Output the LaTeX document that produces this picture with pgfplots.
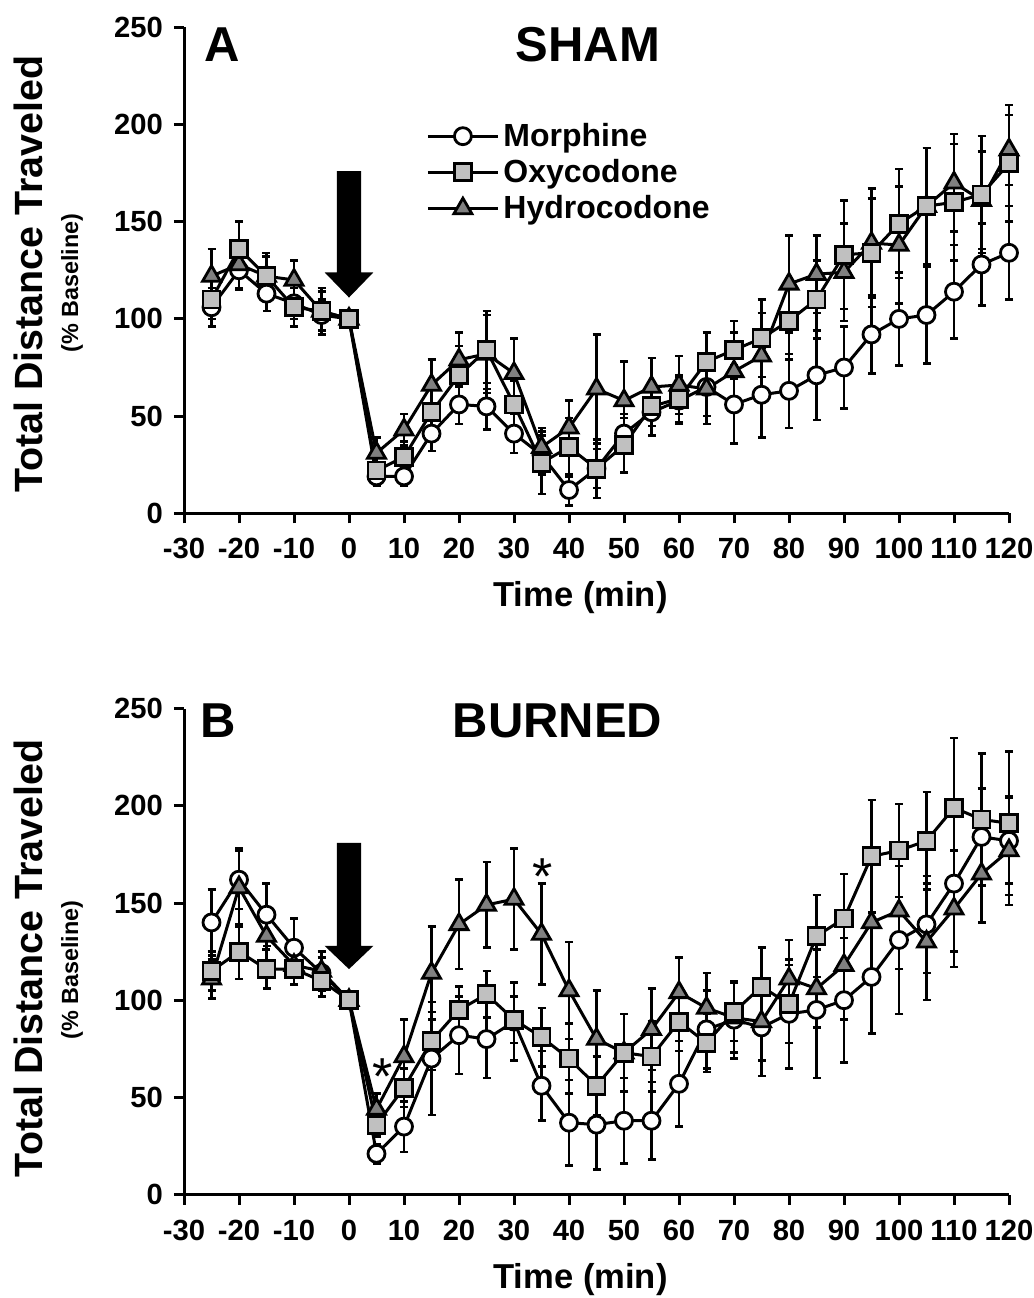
\documentclass[border=0pt]{standalone}
\usepackage{pgfplots}
\pgfplotsset{compat=1.18}
\usepackage{pgfplotstable}
\usepackage{fontspec}
\setmainfont{Liberation Sans}
\definecolor{sqgray}{RGB}{192,192,192}
\definecolor{trigray}{RGB}{128,128,128}

\pgfplotstableread{
t m me o oe h he
-25 106 10 110 10 122 14
-20 125 10 136 14 128 12
-15 113 9 122 10 122 12
-10 108 8 106 10 120 10
-5 102 8 104 10 104 12
0 100 0 100 0 100 0
5 19 5 22 8 31 8
10 19 5 29 8 43 8
15 41 9 52 12 66 13
20 56 10 71 15 79 14
25 55 12 84 20 82 20
30 41 10 56 12 72 18
35 30 10 26 16 34 10
40 12 8 34 15 44 14
45 23 10 23 15 64 28
50 41 10 35 14 58 20
55 52 12 55 10 65 15
60 58 12 59 12 66 15
65 65 15 78 15 64 18
70 56 20 84 15 73 20
75 61 22 90 20 81 22
80 63 19 99 20 118 25
85 71 23 110 20 123 20
90 75 21 133 28 124 25
95 92 20 134 28 139 28
100 100 24 149 28 138 30
105 102 25 158 30 158 30
110 114 24 160 30 170 25
115 128 21 164 30 161 25
120 134 24 180 30 187 18
}\dataA

\pgfplotstableread{
t m me o oe h he
-25 140 17 115 10 111 10
-20 162 15 125 14 158 20
-15 144 16 116 10 133 15
-10 127 15 116 8 118 10
-5 114 8 110 8 115 10
0 100 0 100 0 100 0
5 21 5 36 6 44 8
10 35 13 55 10 71 19
15 70 29 79 15 114 24
20 82 20 95 12 139 23
25 80 20 103 12 149 22
30 89 20 90 12 152 26
35 56 18 81 15 134 26
40 37 22 70 18 105 25
45 36 23 56 15 80 25
50 38 22 73 20 73 20
55 38 20 71 18 85 21
60 57 22 89 15 104 18
65 85 20 78 15 96 18
70 90 20 94 15 91 18
75 86 25 107 20 89 20
80 93 28 98 20 111 20
85 95 35 133 21 106 20
90 100 32 142 23 118 28
95 112 29 174 29 140 30
100 131 38 177 24 146 30
105 139 25 182 25 130 30
110 160 35 199 36 147 30
115 184 25 193 34 165 25
120 182 22 191 37 177 28
}\dataB

\pgfplotsset{
  myaxis/.style={
    scale only axis, width=412.5pt, height=243pt,
    xmin=-30, xmax=120, ymin=0, ymax=250,
    axis lines*=left,
    axis line style={-, line width=1.5pt, black},
    xtick={-30,-20,...,120},
    xticklabels={-30,-20,-10,0,10,20,30,40,50,60,70,80,90,100,110,120},
    ytick={0,50,...,250},
    yticklabels={0,50,100,150,200,250},
    tick align=outside, tick pos=left,
    major tick length=5pt,
    tick style={black, line width=1.5pt},
    ticklabel style={font=\fontsize{14.6}{14.6}\selectfont\bfseries},
    xticklabel style={yshift=-4pt},
    yticklabel style={xshift=-2pt},
    clip=false,
    anchor=south west,
  },
  ebar/.style={forget plot, draw=none, mark=none,
    error bars/.cd, y dir=both, y explicit,
    error bar style={draw=black, line width=1.25pt},
    error mark options={draw=black, line width=1.25pt, mark size=2pt, rotate=90}},
  mor/.style={black, line width=1.5pt, mark=*, mark size=4.25pt,
    mark options={fill=white, draw=black, line width=1.4pt, solid}},
  oxy/.style={black, line width=1.5pt, mark=square*, mark size=4.25pt,
    mark options={fill=sqgray, draw=black, line width=1.4pt, solid}},
  hyd/.style={black, line width=1.5pt, mark=triangle*, mark size=5.2pt,
    mark options={fill=trigray, draw=black, line width=1.4pt, solid}},
}

\begin{document}
\begin{tikzpicture}
\useasboundingbox (0,0) rectangle (517pt,-649pt);

% Panel A
\begin{axis}[myaxis, at={(92pt,-256.65pt)},
  legend style={at={(axis cs:14.0,203)}, anchor=north west, draw=none, fill=none,
    font=\fontsize{16}{16}\selectfont\bfseries, row sep=1pt, inner sep=0pt},
  legend cell align=left,
  legend image code/.code={\draw[mark repeat=2, mark phase=2] plot coordinates {(0pt,0pt) (17.5pt,0pt) (35pt,0pt)};},
]
\addplot[ebar] table[x=t, y=m, y error=me] {\dataA};
\addplot[ebar] table[x=t, y=h, y error=he] {\dataA};
\addplot[ebar] table[x=t, y=o, y error=oe] {\dataA};
\fill[black] (axis cs:-2.2,176) -- (axis cs:2.2,176) -- (axis cs:2.2,124) -- (axis cs:4.45,124) -- (axis cs:0,111) -- (axis cs:-4.45,124) -- (axis cs:-2.2,124) -- cycle;
\addplot[mor, forget plot] table[x=t, y=m] {\dataA};
\addplot[hyd, forget plot] table[x=t, y=h] {\dataA};
\addplot[oxy, forget plot] table[x=t, y=o] {\dataA};
\addlegendimage{mor}
\addlegendentry{Morphine}
\addlegendimage{oxy}
\addlegendentry{Oxycodone}
\addlegendimage{hyd}
\addlegendentry{Hydrocodone}
\end{axis}

% Panel B
\begin{axis}[myaxis, at={(92pt,-597.3pt)}]
\addplot[ebar] table[x=t, y=m, y error=me] {\dataB};
\addplot[ebar] table[x=t, y=h, y error=he] {\dataB};
\addplot[ebar] table[x=t, y=o, y error=oe] {\dataB};
\fill[black] (axis cs:-2.2,181) -- (axis cs:2.2,181) -- (axis cs:2.2,128) -- (axis cs:4.45,128) -- (axis cs:0,116) -- (axis cs:-4.45,128) -- (axis cs:-2.2,128) -- cycle;
\addplot[mor, forget plot] table[x=t, y=m] {\dataB};
\addplot[hyd, forget plot] table[x=t, y=h] {\dataB};
\addplot[oxy, forget plot] table[x=t, y=o] {\dataB};
\node[anchor=north, inner sep=0pt, font=\fontsize{26}{26}\selectfont] at (axis cs:6.1,70) {*};
\node[anchor=north, inner sep=0pt, font=\fontsize{26}{26}\selectfont] at (axis cs:35.2,173) {*};
\end{axis}

% Labels
\node[rotate=90, font=\fontsize{19.7}{20}\selectfont\bfseries] at (14pt,-137pt) {Total Distance Traveled};
\node[rotate=90, font=\fontsize{11.7}{12}\selectfont\bfseries] at (36pt,-141.5pt) {(\% Baseline)};
\node[rotate=90, font=\fontsize{19.7}{20}\selectfont\bfseries] at (14pt,-479.25pt) {Total Distance Traveled};
\node[rotate=90, font=\fontsize{11.7}{12}\selectfont\bfseries] at (36pt,-485pt) {(\% Baseline)};
\node[font=\fontsize{17.3}{18}\selectfont\bfseries] at (290.25pt,-299pt) {Time (min)};
\node[font=\fontsize{17.3}{18}\selectfont\bfseries] at (290.25pt,-639.65pt) {Time (min)};
\node[font=\fontsize{24.5}{25}\selectfont\bfseries] at (111pt,-22.5pt) {A};
\node[font=\fontsize{24.5}{25}\selectfont\bfseries] at (294pt,-22.5pt) {SHAM};
\node[font=\fontsize{24.5}{25}\selectfont\bfseries] at (109pt,-360.5pt) {B};
\node[font=\fontsize{24.5}{25}\selectfont\bfseries] at (278.75pt,-360.5pt) {BURNED};
\end{tikzpicture}
\end{document}
